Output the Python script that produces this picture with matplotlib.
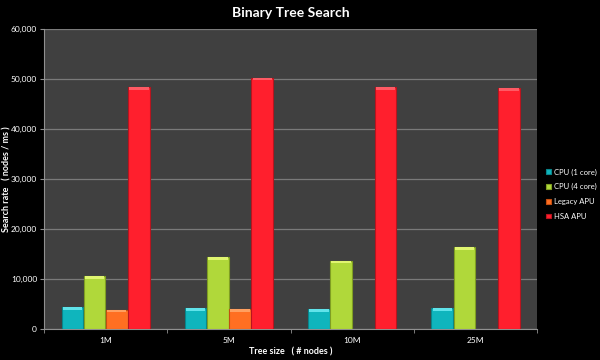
import matplotlib
matplotlib.use("Agg")
import matplotlib.pyplot as plt
import numpy as np

categories = ["1M", "5M", "10M", "25M"]
series_names = ["CPU (1 core)", "CPU (4 core)", "Legacy APU", "HSA APU"]
cpu1 = [4350, 4150, 4000, 4200]
cpu4 = [10600, 14400, 13700, 16400]
legacy = [3850, 3950, np.nan, np.nan]
hsa = [48400, 50300, 48400, 48200]
yticks = [0, 10000, 20000, 30000, 40000, 50000, 60000]

colors = ["#0fb5bd", "#b0d83a", "#ff6f22", "#ff1f2d"]
edges = ["#08858b", "#7f9e22", "#c24e10", "#b8141e"]
highlights = ["#60e3ea", "#e0f570", "#ffa060", "#ff5a64"]

plt.rcParams['font.family'] = ['Lato', 'DejaVu Sans']

fig = plt.figure(figsize=(6, 3.6), dpi=100, facecolor="black")
ax = fig.add_axes([0.0733, 0.0861, 0.822, 0.833])
ax.set_facecolor("#404040")

x = np.arange(len(categories))
bw = 0.175
data = [cpu1, cpu4, legacy, hsa]
for i, (vals, name) in enumerate(zip(data, series_names)):
    pos = x + (i - 1.5) * 0.18
    v = np.array(vals, dtype=float)
    ax.bar(pos, v, width=bw, color=colors[i], edgecolor=edges[i], linewidth=0.8,
           label=name, zorder=3)
    hl = np.where(np.isnan(v), np.nan, 500)
    ax.bar(pos, hl, bottom=v - 500, width=bw * 0.9, color=highlights[i],
           linewidth=0, zorder=4)

ax.set_xlim(-0.5, len(categories) - 0.5)
ax.set_ylim(0, 60000)
ax.set_yticks(yticks)
ax.set_yticklabels([f"{t:,}" for t in yticks], color="white", fontsize=6)
ax.set_xticks(x)
ax.set_xticklabels(categories, color="white", fontsize=6)
ax.set_xticks(np.arange(len(categories) + 1) - 0.5, minor=True)
ax.tick_params(axis="x", which="major", length=0, pad=6)
ax.tick_params(axis="x", which="minor", length=3, color="#909090", direction="out")
ax.tick_params(axis="y", length=3, color="#909090", pad=2)
ax.yaxis.grid(True, color="#7a7a7a", linewidth=0.9, zorder=0)
ax.set_axisbelow(True)
for s in ["top", "right"]:
    ax.spines[s].set_visible(False)
for s in ["left", "bottom"]:
    ax.spines[s].set_color("#909090")
    ax.spines[s].set_linewidth(0.8)

ax.set_title("Binary Tree Search", color="white", fontsize=10, fontweight="bold", pad=9)
ax.set_ylabel("Search rate   ( nodes / ms )", color="white", fontsize=6.5,
              fontweight="bold")
ax.yaxis.set_label_coords(-0.066, 0.5)
ax.set_xlabel("Tree size   ( # nodes )", color="white", fontsize=6.5,
              fontweight="bold", labelpad=2)

leg = ax.legend(loc="center left", bbox_to_anchor=(1.004, 0.45), frameon=False,
                fontsize=5.5, handlelength=0.6, handleheight=0.6, labelspacing=1.0,
                handletextpad=0.4, labelcolor="white")

fig.savefig("out.png", dpi=100, facecolor="black")
